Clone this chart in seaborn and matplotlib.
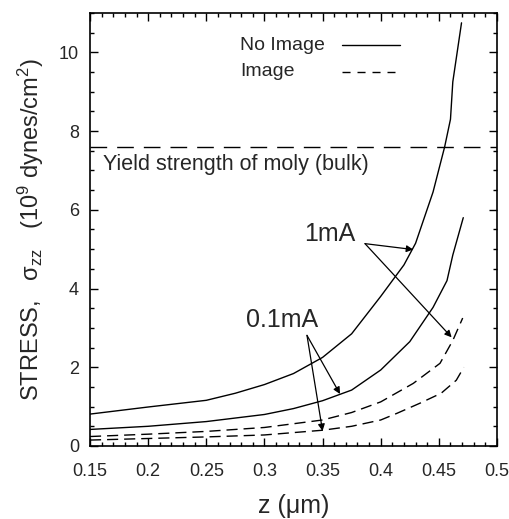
import numpy as np
import pandas as pd
import matplotlib
matplotlib.use("Agg")
import matplotlib.pyplot as plt
import seaborn as sns
from matplotlib.ticker import MultipleLocator

# stress curves (z in um, stress in 1e9 dynes/cm^2)
z_1mA_noimg = [0.15, 0.2, 0.25, 0.275, 0.3, 0.325, 0.35, 0.375, 0.4, 0.42, 0.43, 0.445, 0.455, 0.46, 0.462, 0.4695]
s_1mA_noimg = [0.81, 0.99, 1.16, 1.34, 1.56, 1.84, 2.25, 2.85, 3.8, 4.6, 5.15, 6.45, 7.6, 8.3, 9.25, 10.75]

z_01mA_noimg = [0.15, 0.2, 0.25, 0.3, 0.325, 0.35, 0.375, 0.4, 0.425, 0.445, 0.457, 0.462, 0.471]
s_01mA_noimg = [0.42, 0.5, 0.62, 0.8, 0.95, 1.15, 1.42, 1.93, 2.65, 3.52, 4.2, 4.85, 5.8]

z_1mA_img = [0.15, 0.2, 0.25, 0.3, 0.35, 0.375, 0.4, 0.428, 0.451, 0.462, 0.4705]
s_1mA_img = [0.24, 0.3, 0.37, 0.47, 0.66, 0.85, 1.12, 1.59, 2.1, 2.68, 3.25]

z_01mA_img = [0.15, 0.2, 0.25, 0.3, 0.35, 0.375, 0.4, 0.414, 0.434, 0.452, 0.465, 0.4715]
s_01mA_img = [0.15, 0.19, 0.23, 0.28, 0.4, 0.5, 0.66, 0.83, 1.09, 1.34, 1.67, 2.0]

yield_strength = 7.6
legend_labels = ["No Image", "Image"]

sns.set_style("ticks")
plt.rcParams["font.family"] = ["Liberation Sans", "DejaVu Sans"]
plt.rcParams["mathtext.default"] = "regular"
plt.rcParams["lines.scale_dashes"] = False

fig = plt.figure(figsize=(5.09, 5.19), dpi=100)
ax = fig.add_axes([0.1768, 0.1407, 0.7996, 0.8343])

dash_curve = (0, (8, 4.3))
sns.lineplot(x=z_1mA_noimg, y=s_1mA_noimg, ax=ax, color="black", lw=1)
sns.lineplot(x=z_01mA_noimg, y=s_01mA_noimg, ax=ax, color="black", lw=1)
sns.lineplot(x=z_1mA_img, y=s_1mA_img, ax=ax, color="black", lw=1, linestyle=dash_curve)
sns.lineplot(x=z_01mA_img, y=s_01mA_img, ax=ax, color="black", lw=1, linestyle=dash_curve)

ax.axhline(yield_strength, color="black", lw=1, linestyle=(0, (12, 7.2)))
ax.text(0.161, 7.16, "Yield strength of moly (bulk)", fontsize=15.5, va="center", ha="left")

# annotations with arrows
arrow = dict(arrowstyle="-|>", lw=0.9, color="black", mutation_scale=10, shrinkA=0, shrinkB=0)
ax.text(0.356, 5.39, "1mA", fontsize=18, ha="center", va="center")
ax.annotate("", xy=(0.428, 4.99), xytext=(0.3865, 5.14), arrowprops=arrow)
ax.annotate("", xy=(0.461, 2.76), xytext=(0.3865, 5.14), arrowprops=arrow)
ax.text(0.315, 3.19, "0.1mA", fontsize=18, ha="center", va="center")
ax.annotate("", xy=(0.365, 1.32), xytext=(0.3366, 2.81), arrowprops=arrow)
ax.annotate("", xy=(0.350, 0.38), xytext=(0.3366, 2.81), arrowprops=arrow)

# key in the upper part: label left, line sample right
key_styles = ["-", (0, (5.8, 5))]
key_rows = [0.926, 0.864]
for lab, ls, yy in zip(legend_labels, key_styles, key_rows):
    ax.text(0.369, yy, lab, transform=ax.transAxes, fontsize=14, va="center", ha="left")
    ax.plot([0.619, 0.762 if ls == "-" else 0.749], [yy, yy], transform=ax.transAxes,
            color="black", lw=1, linestyle=ls)

ax.set_xlim(0.15, 0.5)
ax.set_ylim(0, 11)
ax.set_xticks([0.15, 0.2, 0.25, 0.3, 0.35, 0.4, 0.45, 0.5])
ax.set_xticklabels(["0.15", "0.2", "0.25", "0.3", "0.35", "0.4", "0.45", "0.5"])
ax.set_yticks([0, 2, 4, 6, 8, 10])
ax.xaxis.set_minor_locator(MultipleLocator(0.01))
ax.yaxis.set_minor_locator(MultipleLocator(0.5))
ax.tick_params(which="both", direction="in", top=True, right=True, color="black", width=1)
ax.tick_params(which="major", length=6, labelsize=13)
ax.tick_params(which="minor", length=3)
ax.tick_params(axis="x", which="major", pad=12)
ax.tick_params(axis="y", which="major", pad=8)
for sp in ax.spines.values():
    sp.set_linewidth(1.2)
    sp.set_color("black")

ax.set_xlabel("z (μm)", fontsize=18, labelpad=10)
ax.set_ylabel("STRESS,   σ$_{zz}$   (10$^9$ dynes/cm$^2$)", fontsize=17, labelpad=9)

fig.savefig("out.png", dpi=100)
